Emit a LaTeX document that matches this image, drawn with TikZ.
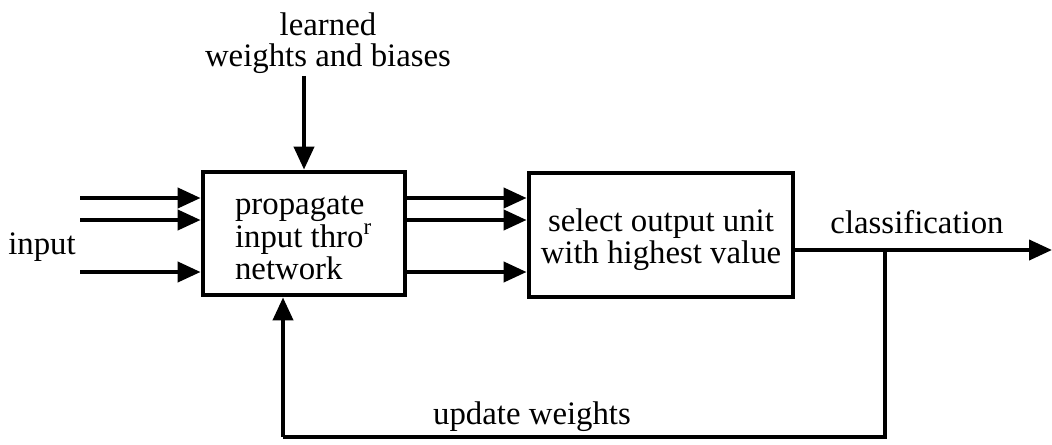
\documentclass[tikz,border=0pt]{standalone}
\usepackage{fontspec}
\setmainfont{Liberation Serif}
\usepackage{tikz}
\usetikzlibrary{arrows.meta}

\tikzset{
  wire/.style={line width=2pt, -{Triangle[length=11.5pt,width=10pt]}},
  plainwire/.style={line width=2pt},
  block/.style={draw, line width=2.4pt, rectangle, inner sep=0pt}
}

\begin{document}
\begin{tikzpicture}[x=0.5pt, y=-0.5pt, font=\fontsize{16.4}{14.6}\selectfont]
  \useasboundingbox (0,0) rectangle (1052,444);

  \node[block, minimum width=101pt, minimum height=61.5pt] (prop) at (304,233.5) {};
  \node[anchor=west, align=left] (proptext) at (228,238) {propagate\\input thro\textsuperscript{r}\\network};
  \node[block, minimum width=132pt, minimum height=62pt] (select) at (661,235) {};
  \node[align=center] (selecttext) at (661,240) {select output unit\\with highest value};

  \node[align=center, font=\fontsize{16.4}{15.4}\selectfont] (learned) at (328,43) {learned\\weights and biases};
  \node (input) at (42,247) {input};
  \node (class) at (917,222) {classification};
  \node (update) at (532,417) {update weights};

  \coordinate (out) at (1052,250);
  \coordinate (split) at (885,250);
  \coordinate (fbl) at (283,437);

  % inputs and links between the blocks
  \foreach \y in {198,220,272} {
    \draw[wire] (80,\y) -- (prop.west |- 0,\y);
    \draw[wire] (prop.east |- 0,\y) -- (select.west |- 0,\y);
  }

  \draw[wire] (prop.north |- 0,76) -- (prop.north);
  \draw[wire] (select.east |- out) -- (out);
  \draw[plainwire] (split) |- (fbl);
  \draw[wire] (fbl) -- (fbl |- prop.south);
\end{tikzpicture}
\end{document}
